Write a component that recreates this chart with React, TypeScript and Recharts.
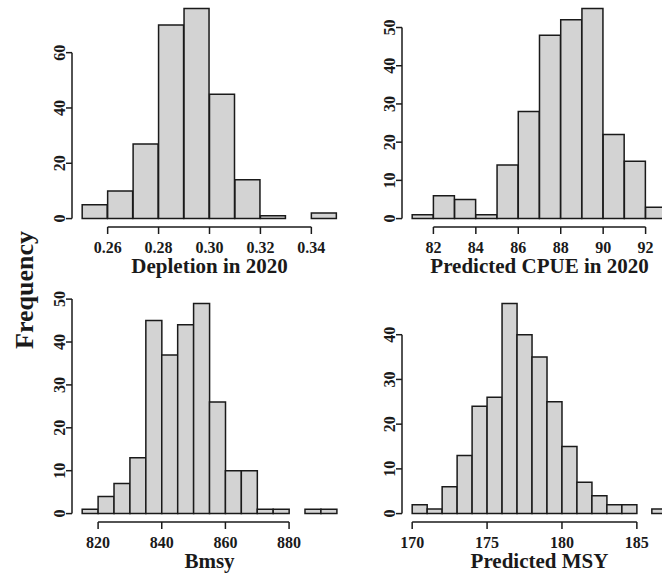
import React from "react";
import { BarChart, Bar, XAxis, YAxis, ReferenceLine } from "recharts";

const FONT = "'Liberation Serif', 'Times New Roman', serif";
const INK = "#1a1a1a";
const FILL = "#d3d3d3";

// Depletion in 2020
const depletionBreaks = [0.25, 0.26, 0.27, 0.28, 0.29, 0.3, 0.31, 0.32, 0.33, 0.34, 0.35];
const depletionCounts = [5, 10, 27, 70, 76, 45, 14, 1, 0, 2];
const depletionXTicks = [0.26, 0.28, 0.3, 0.32, 0.34];
const depletionYTicks = [0, 20, 40, 60];

// Predicted CPUE in 2020
const cpueBreaks = [81, 82, 83, 84, 85, 86, 87, 88, 89, 90, 91, 92, 93];
const cpueCounts = [1, 6, 5, 1, 14, 28, 48, 52, 55, 22, 15, 3];
const cpueXTicks = [82, 84, 86, 88, 90, 92];
const cpueYTicks = [0, 10, 20, 30, 40, 50];

// Bmsy
const bmsyBreaks = [815, 820, 825, 830, 835, 840, 845, 850, 855, 860, 865, 870, 875, 880, 885, 890, 895];
const bmsyCounts = [1, 4, 7, 13, 45, 37, 44, 49, 26, 10, 10, 1, 1, 0, 1, 1];
const bmsyXTicks = [820, 840, 860, 880];
const bmsyYTicks = [0, 10, 20, 30, 40, 50];

// Predicted MSY
const msyBreaks = [170, 171, 172, 173, 174, 175, 176, 177, 178, 179, 180, 181, 182, 183, 184, 185, 186, 187];
const msyCounts = [2, 1, 6, 13, 24, 26, 47, 40, 35, 25, 15, 7, 4, 2, 2, 0, 1];
const msyXTicks = [170, 175, 180, 185];
const msyYTicks = [0, 10, 20, 30, 40];

const tickText = { fill: INK, fontSize: 16, fontWeight: "bold", fontFamily: FONT };

// x labels: baseline placed a fixed distance under the tick end
const XTick = ({ x, y, payload, decimals }: any) => (
  <text x={x} y={y + 11} textAnchor="middle" {...tickText}>
    {Number(payload.value).toFixed(decimals)}
  </text>
);

// y labels run along the axis, like base R graphics
const YTick = ({ x, y, payload }: any) => (
  <text x={x} y={y} transform={`rotate(-90, ${x}, ${y})`} textAnchor="middle" {...tickText}>
    {payload.value}
  </text>
);

interface HistProps {
  breaks: number[];
  counts: number[];
  xTicks: number[];
  yTicks: number[];
  title: string;
  decimals: number;
  left: number;
  top: number;
}

function Hist({ breaks, counts, xTicks, yTicks, title, decimals, left, top }: HistProps) {
  const data = counts.map((c, i) => ({ mid: (breaks[i] + breaks[i + 1]) / 2, count: c }));
  const lo = breaks[0];
  const hi = breaks[breaks.length - 1];
  const maxY = Math.max(...counts);
  // 4% range extension on both axes
  const xDomain = [lo - (hi - lo) * 0.04, hi + (hi - lo) * 0.04];
  const yDomain = [-maxY * 0.04, maxY * 1.04];

  return (
    <div style={{ position: "absolute", left, top: top - 15 }}>
      <BarChart
        width={357}
        height={305}
        data={data}
        margin={{ top: 15, right: 10, left: 0, bottom: 0 }}
        barCategoryGap={0}
        barGap={0}
      >
        <XAxis
          type="number"
          dataKey="mid"
          domain={xDomain}
          allowDataOverflow
          ticks={xTicks}
          interval={0}
          axisLine={false}
          tickSize={7}
          tickMargin={8}
          tickLine={{ stroke: INK, strokeWidth: 1.5 }}
          tick={<XTick decimals={decimals} />}
          height={63}
          label={{
            value: title,
            position: "insideBottom",
            offset: 17,
            fill: INK,
            fontSize: 21,
            fontWeight: "bold",
            fontFamily: FONT,
          }}
        />
        <YAxis
          type="number"
          domain={yDomain}
          allowDataOverflow
          ticks={yTicks}
          interval={0}
          width={72}
          axisLine={false}
          tickSize={6}
          tickMargin={1}
          tickLine={{ stroke: INK, strokeWidth: 1.5 }}
          tick={<YTick />}
        />
        <ReferenceLine
          segment={[
            { x: xTicks[0], y: yDomain[0] },
            { x: xTicks[xTicks.length - 1], y: yDomain[0] },
          ]}
          stroke={INK}
          strokeWidth={1.5}
          ifOverflow="visible"
        />
        <ReferenceLine
          segment={[
            { x: xDomain[0], y: yTicks[0] },
            { x: xDomain[0], y: yTicks[yTicks.length - 1] },
          ]}
          stroke={INK}
          strokeWidth={1.5}
          ifOverflow="visible"
        />
        <Bar dataKey="count" fill={FILL} stroke={INK} strokeWidth={1.5} isAnimationActive={false} />
      </BarChart>
    </div>
  );
}

export default function App() {
  return (
    <div
      style={{
        position: "absolute",
        left: 0,
        top: 0,
        width: 662,
        height: 573,
        overflow: "hidden",
        background: "#fff",
        fontFamily: FONT,
      }}
    >
      <Hist breaks={depletionBreaks} counts={depletionCounts} xTicks={depletionXTicks} yTicks={depletionYTicks}
        title="Depletion in 2020" decimals={2} left={0} top={0} />
      <Hist breaks={cpueBreaks} counts={cpueCounts} xTicks={cpueXTicks} yTicks={cpueYTicks}
        title="Predicted CPUE in 2020" decimals={0} left={330} top={0} />
      <Hist breaks={bmsyBreaks} counts={bmsyCounts} xTicks={bmsyXTicks} yTicks={bmsyYTicks}
        title="Bmsy" decimals={0} left={0} top={295} />
      <Hist breaks={msyBreaks} counts={msyCounts} xTicks={msyXTicks} yTicks={msyYTicks}
        title="Predicted MSY" decimals={0} left={330} top={295} />
      <svg width={60} height={573} style={{ position: "absolute", left: 0, top: 0 }}>
        <text
          transform="translate(33, 290) rotate(-90)"
          textAnchor="middle"
          fill={INK}
          fontSize={26}
          fontWeight="bold"
          fontFamily={FONT}
        >
          Frequency
        </text>
      </svg>
    </div>
  );
}
